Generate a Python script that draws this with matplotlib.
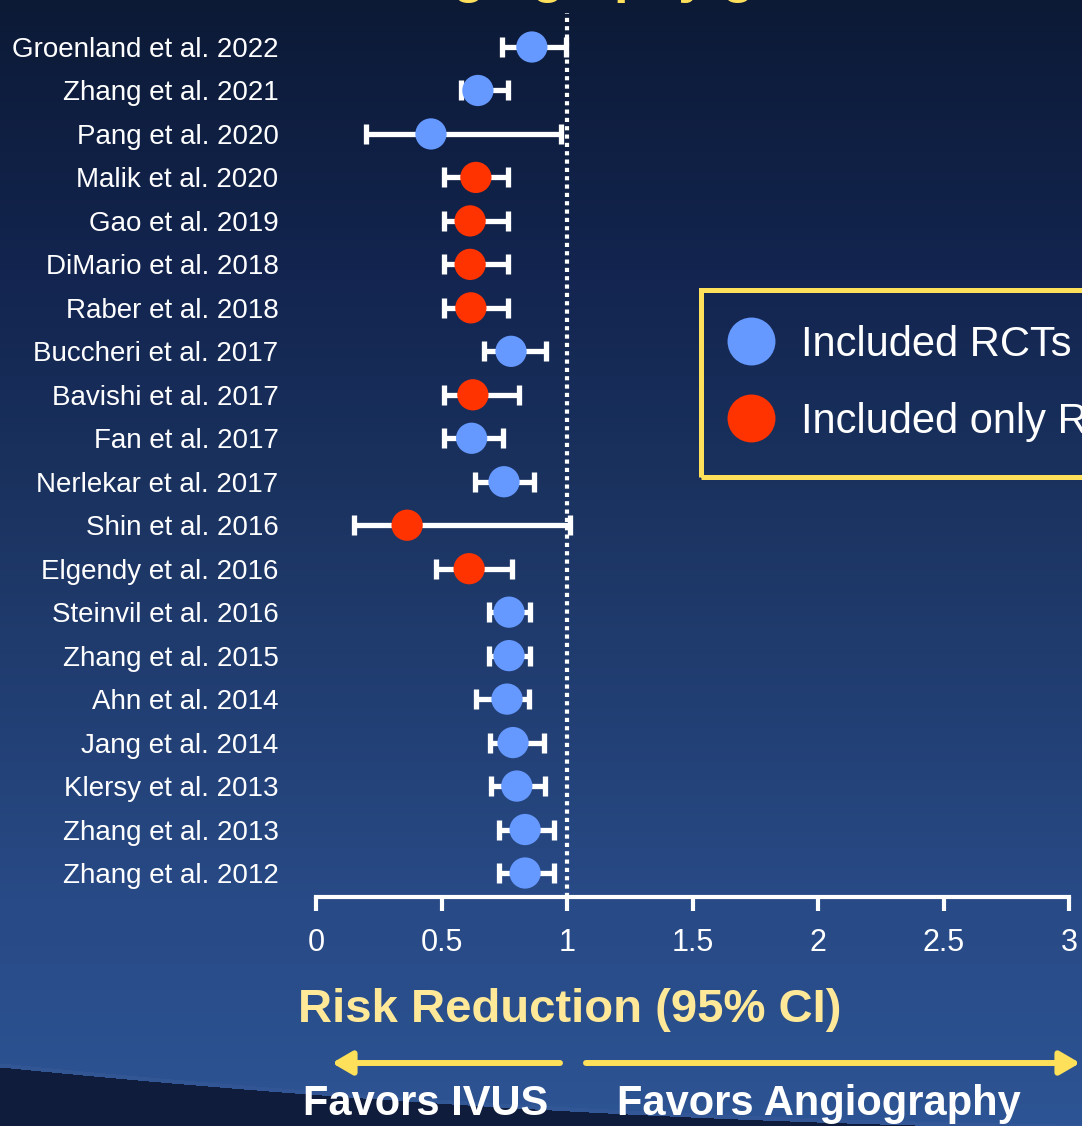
import numpy as np
import matplotlib
matplotlib.use('Agg')
import matplotlib.pyplot as plt
from matplotlib.lines import Line2D

plt.rcParams['font.family'] = ['Liberation Sans', 'DejaVu Sans']

# study list, top to bottom
studies = ['Groenland et al. 2022', 'Zhang et al. 2021', 'Pang et al. 2020',
           'Malik et al. 2020', 'Gao et al. 2019', 'DiMario et al. 2018',
           'Raber et al. 2018', 'Buccheri et al. 2017', 'Bavishi et al. 2017',
           'Fan et al. 2017', 'Nerlekar et al. 2017', 'Shin et al. 2016',
           'Elgendy et al. 2016', 'Steinvil et al. 2016', 'Zhang et al. 2015',
           'Ahn et al. 2014', 'Jang et al. 2014', 'Klersy et al. 2013',
           'Zhang et al. 2013', 'Zhang et al. 2012']
rr = [0.86, 0.645, 0.458, 0.637, 0.614, 0.614, 0.617, 0.777, 0.625, 0.62,
      0.749, 0.363, 0.61, 0.769, 0.769, 0.761, 0.785, 0.80, 0.833, 0.833]
ci_low = [0.74, 0.578, 0.199, 0.51, 0.51, 0.51, 0.51, 0.669, 0.51, 0.51,
          0.633, 0.151, 0.478, 0.69, 0.69, 0.637, 0.693, 0.697, 0.729, 0.729]
ci_high = [0.996, 0.765, 0.976, 0.765, 0.765, 0.765, 0.765, 0.916, 0.809, 0.745,
           0.869, 1.012, 0.781, 0.853, 0.853, 0.849, 0.908, 0.912, 0.948, 0.948]
# 'rct' = included RCTs, 'reg' = included only registries
kind = ['rct', 'rct', 'rct', 'reg', 'reg', 'reg', 'reg', 'rct', 'reg', 'rct',
        'rct', 'reg', 'reg', 'rct', 'rct', 'rct', 'rct', 'rct', 'rct', 'rct']

xticks = [0, 0.5, 1, 1.5, 2, 2.5, 3]
xtick_labels = ['0', '0.5', '1', '1.5', '2', '2.5', '3']
REF = 1.0

BLUE = '#6699ff'
RED = '#ff3300'
YELLOW = '#ffe05a'
PALE_YELLOW = '#ffe999'
colors = {'rct': BLUE, 'reg': RED}

W, H = 1082, 1126
fig = plt.figure(figsize=(W / 100, H / 100), dpi=100)

# slide background: dark navy gradient with a darker swoosh at the bottom
yy, xx = np.mgrid[0:H, 0:W].astype(float)
stops_y = [0, 280, 500, 900, 1126]
stops_c = np.array([[12, 26, 54], [19, 37, 80], [27, 51, 96],
                    [40, 74, 134], [45, 84, 148]]) / 255.0
bg = np.zeros((H, W, 3))
for c in range(3):
    bg[..., c] = np.interp(yy, stops_y, stops_c[:, c])
edge = 1067 + 0.1 * xx - 0.00004 * xx ** 2
band = (yy > edge - 4) & (yy <= edge)
bg[band] = bg[band] * 0.75 + np.array([70, 100, 160]) / 255.0 * 0.25
below = yy > edge
bg[below] = np.array([16, 28, 60]) / 255.0
bg_ax = fig.add_axes([0, 0, 1, 1], zorder=-5)
bg_ax.imshow(bg, aspect='auto', extent=[0, W, H, 0])
bg_ax.axis('off')

ax = fig.add_axes([316 / W, 1 - 897 / H, 753 / W, 897 / H])
ax.set_facecolor('none')
ypos = np.arange(len(studies))

ax.axvline(REF, ymin=0, ymax=1 - 13 / 897, color='white', lw=3,
           linestyle=(0, (1, 1)), zorder=1)

# confidence intervals with end caps, then the point estimates on top
err = [np.subtract(rr, ci_low), np.subtract(ci_high, rr)]
ax.errorbar(rr, ypos, xerr=err, fmt='none', ecolor='white', elinewidth=3.8,
            capsize=7.3, capthick=3.8, zorder=2)
ax.scatter(rr, ypos, s=22.5 ** 2, c=[colors[k] for k in kind],
           linewidths=0, zorder=3)

ax.set_xlim(0, 3)
ax.set_ylim(19 + 24 / 43.47, -47 / 43.47)
ax.set_xticks(xticks)
ax.set_xticklabels(xtick_labels)
ax.set_yticks(ypos)
ax.set_yticklabels(studies)
for side in ['top', 'right', 'left']:
    ax.spines[side].set_visible(False)
ax.spines['bottom'].set_color('white')
ax.spines['bottom'].set_linewidth(3)
ax.tick_params(axis='x', colors='white', width=3, length=10, pad=12,
               labelsize=22)
ax.tick_params(axis='y', length=0, pad=27, labelsize=20, labelcolor='white')

# legend box
handles = [Line2D([], [], marker='o', ls='', ms=34.5, mew=0, color=BLUE),
           Line2D([], [], marker='o', ls='', ms=34.5, mew=0, color=RED)]
leg = fig.legend(handles, ['Included RCTs', 'Included only Registries'],
                 loc='upper left', bbox_to_anchor=(701 / W, 1 - 290 / H),
                 fontsize=30, frameon=True, fancybox=False, framealpha=1,
                 borderpad=0.84, labelspacing=0.88, handlelength=0.7,
                 handletextpad=0.86, borderaxespad=0)
leg.get_frame().set_edgecolor(YELLOW)
leg.get_frame().set_linewidth(3.6)
leg.get_frame().set_facecolor('none')
for t in leg.get_texts():
    t.set_color('white')

# title running off the top edge
fig.text(159 / W, 1 + 8 / H, 'IVUS vs. Angiography guided PCI', color=YELLOW,
         fontsize=38, fontweight='bold', ha='left', va='baseline')

fig.text(570 / W, 1 - 1010 / H, 'Risk Reduction (95% CI)', color=PALE_YELLOW,
         fontsize=34, fontweight='bold', ha='center', va='center')

arrow_y = 1 - 1063 / H
arrow_style = dict(arrowstyle='-|>,head_length=0.6,head_width=0.35',
                   color=YELLOW, lw=4.3, mutation_scale=20,
                   shrinkA=0, shrinkB=0)
ax.annotate('', xy=(332 / W, arrow_y), xytext=(560 / W, arrow_y),
            xycoords='figure fraction', arrowprops=arrow_style)
ax.annotate('', xy=(1080 / W, arrow_y), xytext=(586 / W, arrow_y),
            xycoords='figure fraction', arrowprops=arrow_style)

fig.text(426 / W, 1 - 1104 / H, 'Favors IVUS', color='white', fontsize=30,
         fontweight='bold', ha='center', va='center')
fig.text(819 / W, 1 - 1104 / H, 'Favors Angiography', color='white',
         fontsize=30, fontweight='bold', ha='center', va='center')

fig.savefig('out.png', dpi=100)
